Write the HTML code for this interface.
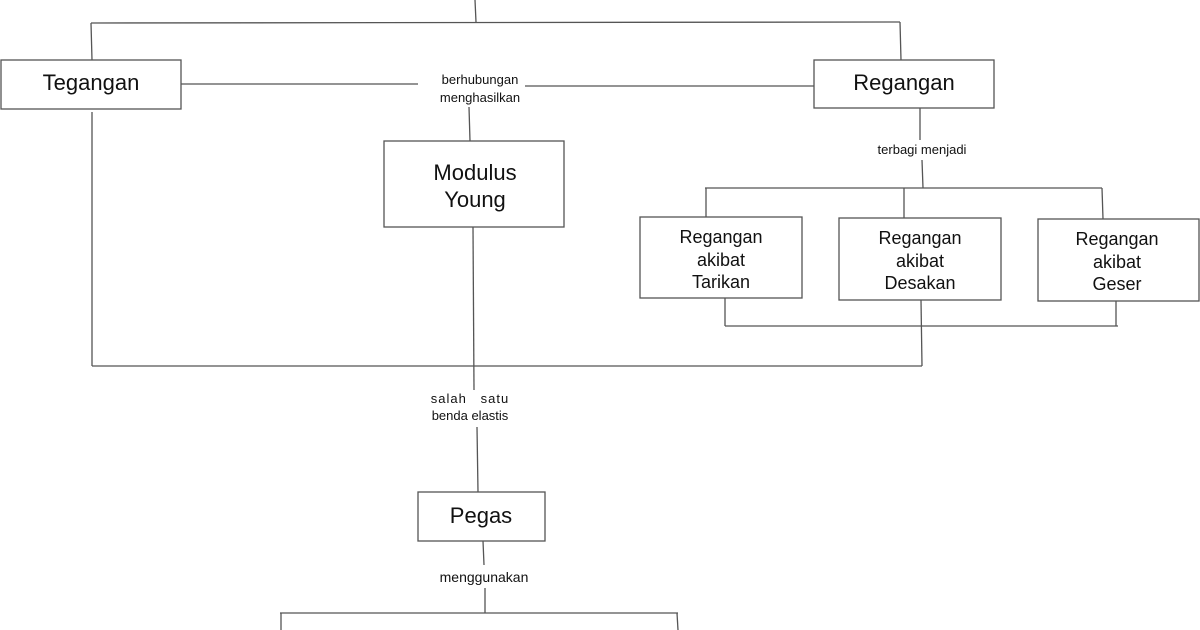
<!DOCTYPE html>
<html><head><meta charset="utf-8"><style>
html,body{margin:0;padding:0;background:#fff;}
svg{display:block;}
text{font-family:"Liberation Sans",Arial,sans-serif;fill:#111;}
</style></head><body>
<svg width="1200" height="630" viewBox="0 0 1200 630" xmlns="http://www.w3.org/2000/svg">
<g stroke="#555" stroke-width="1.3" fill="none">
<line x1="475" y1="0" x2="476" y2="22"/>
<line x1="91" y1="23" x2="900" y2="22"/>
<line x1="91" y1="23" x2="92" y2="60"/>
<line x1="900" y1="22" x2="901" y2="60"/>
<rect x="1" y="60" width="180" height="49"/>
<rect x="814" y="60" width="180" height="48"/>
<line x1="181" y1="84" x2="418" y2="84"/>
<line x1="525" y1="86" x2="814" y2="86"/>
<line x1="469" y1="107" x2="470" y2="141"/>
<rect x="384" y="141" width="180" height="86"/>
<line x1="920" y1="108" x2="920" y2="140"/>
<line x1="922" y1="160" x2="923" y2="188"/>
<line x1="705" y1="188" x2="1102" y2="188"/>
<line x1="706" y1="188" x2="706" y2="217"/>
<line x1="904" y1="188" x2="904" y2="218"/>
<line x1="1102" y1="188" x2="1103" y2="219"/>
<rect x="640" y="217" width="162" height="81"/>
<rect x="839" y="218" width="162" height="82"/>
<rect x="1038" y="219" width="161" height="82"/>
<line x1="725" y1="298" x2="725" y2="326"/>
<line x1="1116" y1="301" x2="1116" y2="326"/>
<line x1="725" y1="326" x2="1118" y2="326"/>
<line x1="921" y1="300" x2="922" y2="366"/>
<line x1="92" y1="112" x2="92" y2="366"/>
<line x1="92" y1="366" x2="922" y2="366"/>
<line x1="473" y1="227" x2="474" y2="390"/>
<line x1="477" y1="427" x2="478" y2="492"/>
<rect x="418" y="492" width="127" height="49"/>
<line x1="483" y1="541" x2="484" y2="565"/>
<line x1="485" y1="588" x2="485" y2="613"/>
<line x1="280" y1="613" x2="678" y2="613"/>
<line x1="281" y1="613" x2="281" y2="630"/>
<line x1="677" y1="613" x2="678" y2="630"/>
</g>
<g text-anchor="middle">
<text x="91" y="90" font-size="22">Tegangan</text>
<text x="904" y="90" font-size="22">Regangan</text>
<text x="475" y="180" font-size="22">Modulus</text>
<text x="475" y="207" font-size="22">Young</text>
<text x="480" y="84" font-size="13">berhubungan</text>
<text x="480" y="102" font-size="13">menghasilkan</text>
<text x="922" y="154" font-size="13">terbagi menjadi</text>
<text x="721" y="243" font-size="18">Regangan</text>
<text x="721" y="266" font-size="18">akibat</text>
<text x="721" y="288" font-size="18">Tarikan</text>
<text x="920" y="244" font-size="18">Regangan</text>
<text x="920" y="267" font-size="18">akibat</text>
<text x="920" y="289" font-size="18">Desakan</text>
<text x="1117" y="245" font-size="18">Regangan</text>
<text x="1117" y="268" font-size="18">akibat</text>
<text x="1117" y="290" font-size="18">Geser</text>
<text x="470" y="403" font-size="13" letter-spacing="1" xml:space="preserve">salah   satu</text>
<text x="470" y="420" font-size="13">benda elastis</text>
<text x="481" y="523" font-size="22">Pegas</text>
<text x="484" y="582" font-size="14">menggunakan</text>
</g>
</svg>
</body></html>
